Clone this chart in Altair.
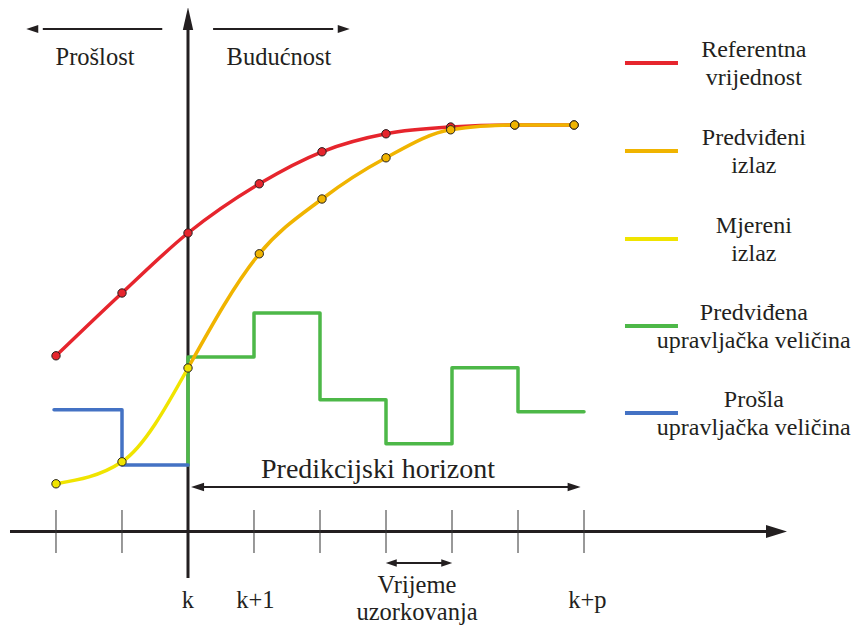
import altair as alt
import pandas as pd

# ---- data (x in sampling steps relative to k, y in output units) ----
ref_x = [-2, -1, 0, 1.08, 2.03, 3, 3.98, 4.95, 5.85]
ref_y = [43.8, 59.5, 74.5, 86.8, 94.8, 99.3, 101.0, 101.5, 101.5]

pred_x = [0, 1.08, 2.03, 3, 3.98, 4.95, 5.85]
pred_y = [40.75, 69.3, 83.0, 93.3, 100.3, 101.5, 101.5]

meas_x = [-2, -1, 0]
meas_y = [11.8, 17.3, 40.75]

ctrl_x = [0, 0, 1, 2, 3, 4, 5, 6]
ctrl_y = [16.5, 43.5, 54.5, 32.8, 21.8, 40.8, 29.8, 29.8]

past_x = [-2.03, -1, 0]
past_y = [30.3, 16.5, 16.5]

tick_x = [-2, -1, 1, 2, 3, 4, 5, 6]
tick_labels = ["k", "k+1", "k+p"]
tick_label_x = [0, 1.02, 6.05]

legend_labels = [
    ("Referentna", "vrijednost"),
    ("Predviđeni", "izlaz"),
    ("Mjereni", "izlaz"),
    ("Predviđena", "upravljačka veličina"),
    ("Prošla", "upravljačka veličina"),
]
legend_colors = ["#e6252d", "#f0b400", "#f0e400", "#4db848", "#4472c4"]
legend_y = [117, 95, 73, 51.25, 29.5]

INK = "#231f20"
FONT = "Liberation Serif"
FS = 24.5
LFS = 24

xs = alt.Scale(domain=[-2.72727, 10.04545], nice=False, zero=False)
ys = alt.Scale(domain=[-24.25, 130.75], nice=False, zero=False)


def X(f="x"):
    return alt.X(f"{f}:Q", scale=xs, axis=None)


def Y(f="y"):
    return alt.Y(f"{f}:Q", scale=ys, axis=None)


def line(xv, yv, color, interp):
    df = pd.DataFrame({"x": xv, "y": yv, "i": range(len(xv))})
    return alt.Chart(df).mark_line(
        interpolate=interp, color=color, strokeWidth=3.5, strokeCap="round", strokeJoin="round"
    ).encode(x=X(), y=Y(), order="i:Q")


def dots(xv, yv, color):
    df = pd.DataFrame({"x": xv, "y": yv})
    return alt.Chart(df).mark_point(
        shape="circle", filled=True, fill=color, stroke=INK, strokeWidth=1, size=70, opacity=1
    ).encode(x=X(), y=Y())


def hrule(x1, x2, y, width, color=INK):
    df = pd.DataFrame({"x": [x1], "x2": [x2], "y": [y]})
    return alt.Chart(df).mark_rule(color=color, strokeWidth=width).encode(
        x=X(), x2="x2:Q", y=Y()
    )


def vrule(x, y1, y2, width, color=INK):
    df = pd.DataFrame({"x": [x], "y": [y1], "y2": [y2]})
    return alt.Chart(df).mark_rule(color=color, strokeWidth=width).encode(
        x=X(), y=Y(), y2="y2:Q"
    )


def head(x, y, angle, size, half=0.55):
    path = f"M1,0L-1,-{half}L-1,{half}Z"
    df = pd.DataFrame({"x": [x], "y": [y]})
    return alt.Chart(df).mark_point(
        shape=path, filled=True, color=INK, size=size, angle=angle, opacity=1, strokeWidth=0
    ).encode(x=X(), y=Y())


def text(x, y, s, size=FS, align="center"):
    df = pd.DataFrame({"x": [x], "y": [y], "t": [s]})
    return alt.Chart(df).mark_text(
        font=FONT, fontSize=size, color=INK, align=align, baseline="alphabetic"
    ).encode(x=X(), y=Y(), text="t:N")


layers = []

# axes
layers.append(hrule(-2.697, 8.85, -0.1, 3))
layers.append(head(8.917, -0.1, 0, 441, 0.62))
layers.append(vrule(0, 126.0, -11.75, 3))
layers.append(head(0, 128.1, 270, 529, 0.45))
tick_df = pd.DataFrame({"x": tick_x, "y": [5.25] * len(tick_x), "y2": [-5.5] * len(tick_x)})
layers.append(
    alt.Chart(tick_df).mark_rule(color="#333333", strokeWidth=1).encode(x=X(), y=Y(), y2="y2:Q")
)

# past / future arrows
layers.append(hrule(-2.2, -0.39, 125.5, 2))
layers.append(head(-2.36, 125.5, 180, 144, 0.65))
layers.append(hrule(0.38, 2.2, 125.5, 2))
layers.append(head(2.36, 125.5, 0, 144, 0.65))
layers.append(text(-1.409, 116.5, "Prošlost"))
layers.append(text(1.379, 116.5, "Budućnost"))

# prediction horizon arrow
layers.append(hrule(0.1, 5.9, 11, 2))
layers.append(head(0.145, 11, 180, 169, 0.65))
layers.append(head(5.85, 11, 0, 169, 0.65))
layers.append(text(2.879, 13.25, "Predikcijski horizont", size=28))

# sampling time arrow
layers.append(hrule(3.1, 3.9, -8.0, 2))
layers.append(head(3.08, -8.0, 180, 121, 0.7))
layers.append(head(3.92, -8.0, 0, 121, 0.7))
layers.append(text(3.47, -15.5, "Vrijeme"))
layers.append(text(3.47, -22.25, "uzorkovanja"))

# tick labels
for lx, lab in zip(tick_label_x, tick_labels):
    layers.append(text(lx, -19.25, lab))

# data lines
layers.append(line(ctrl_x, ctrl_y, legend_colors[3], "step-after"))
layers.append(line(past_x, past_y, legend_colors[4], "step-after"))
layers.append(line(ref_x, ref_y, legend_colors[0], "monotone"))
layers.append(line(pred_x, pred_y, legend_colors[1], "monotone"))
layers.append(line(meas_x, meas_y, legend_colors[2], "monotone"))
layers.append(dots(ref_x, ref_y, legend_colors[0]))
layers.append(dots(pred_x[1:], pred_y[1:], legend_colors[1]))
layers.append(dots(meas_x, meas_y, legend_colors[2]))

# legend
for (l1, l2), c, ly in zip(legend_labels, legend_colors, legend_y):
    layers.append(hrule(6.621, 7.424, ly, 4, color=c))
    layers.append(text(8.573, ly + 1.5, l1, size=LFS))
    layers.append(text(8.573, ly - 5.5, l2, size=LFS))

chart = (
    alt.layer(*layers)
    .properties(width=843, height=620, padding=0, autosize="none")
    .configure_view(stroke=None)
)

chart.save("out.html", embed_options={"renderer": "svg", "actions": False})
